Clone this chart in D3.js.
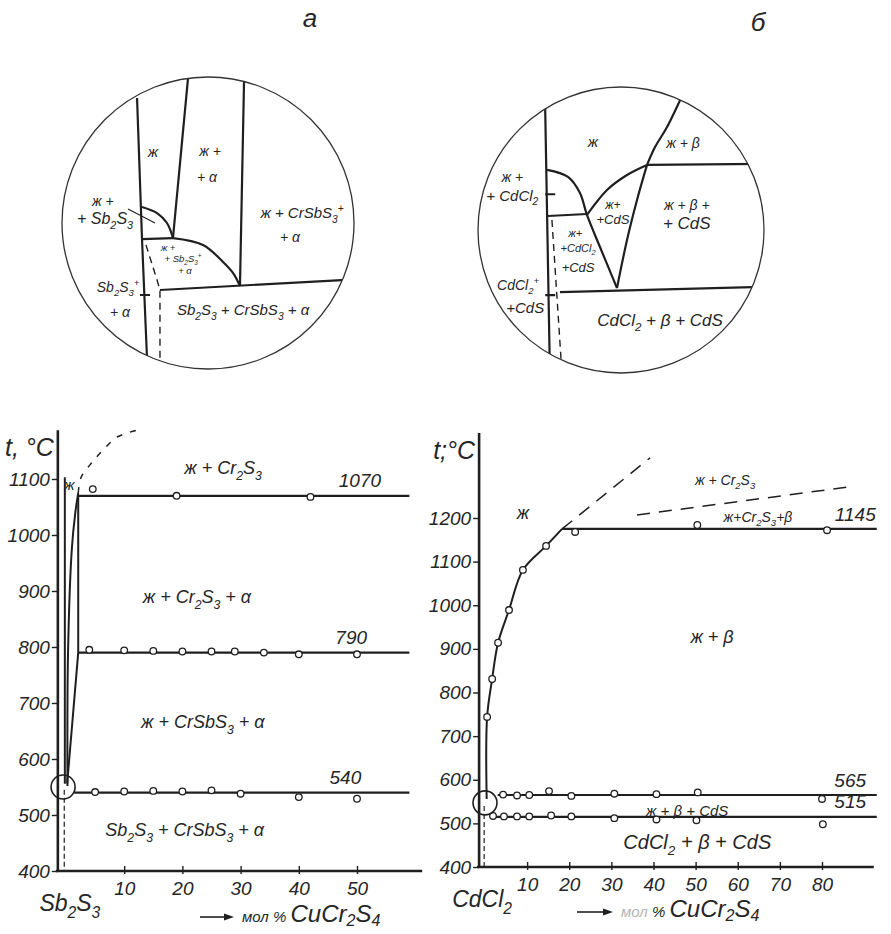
<!DOCTYPE html>
<html>
<head>
<meta charset="utf-8">
<script src="https://cdn.jsdelivr.net/npm/d3@7"></script>
<style>
  body { margin: 0; background: #fff; }
  svg text { font-family: "Liberation Sans", Arial, sans-serif; font-style: italic; fill: #262626; }
</style>
</head>
<body>
<svg id="chart" width="891" height="934"></svg>
<script>
// ---------- left panel: Sb2S3 – CuCr2S4 ----------
const leftTicksX = [10, 20, 30, 40, 50];
const leftTicksY = [400, 500, 600, 700, 800, 900, 1000, 1100];
const leftIsoT = [1070, 790, 540];
const leftIsoFrom = [2.1, 2.1, 1.4];
const leftIsoLabels = ['1070', '790', '540'];
const leftPts1070 = [[4.6, 1082], [19, 1070], [42, 1068]];
const leftPts790 = [[4, 795], [10, 794], [15, 793], [20, 792], [25, 792], [29, 792], [34, 790], [40, 787], [50, 787]];
const leftPts540 = [[5, 541], [10, 542], [15, 543], [20, 542], [25, 544], [30, 538], [40, 532], [50, 529]];
const leftLiquidus = [[0.25, 552], [0.35, 790], [1, 975], [1.6, 1040], [2.1, 1075]];
const leftLiquidusDash = [[2.1, 1075], [2.6, 1103], [4.5, 1130], [6.4, 1152], [8.8, 1175], [12.5, 1188]];
const leftSb2S3Line = [[-0.2, 1103], [-0.2, 556]];
const leftAlphaEdge = [[2.1, 1070], [2.1, 790], [0.2, 556]];
const leftSolidusDash = [[-0.3, 545], [-0.3, 400]];
const leftEutectic = [-0.5, 550];

// ---------- right panel: CdCl2 – CuCr2S4 ----------
const rightTicksX = [10, 20, 30, 40, 50, 60, 70, 80];
const rightTicksY = [400, 500, 600, 700, 800, 900, 1000, 1100, 1200];
const rightIsoT = [1175, 565, 515];
const rightIsoFrom = [18.3, 3, 1.7];
const rightIsoLabels = ['1145', '565', '515'];
const rightLiquidus = [[0.4, 556], [0.5, 744], [1.7, 831], [3.1, 914], [5.7, 989], [9, 1081], [14.5, 1136], [18.3, 1175]];
const rightLiqPts = [[0.5, 744], [1.7, 831], [3.1, 914], [5.7, 989], [9, 1081], [14.5, 1136]];
const rightDash1 = [[18.3, 1175], [39.2, 1338]];
const rightDash2 = [[36.1, 1207], [86.2, 1271]];
const rightPts1145 = [[21.4, 1168], [50.4, 1184], [81.2, 1172]];
const rightPts565 = [[4.3, 566], [7.6, 564], [10.5, 565], [15.2, 574], [20.5, 563], [30.7, 568], [40.7, 567], [50.5, 571], [80, 556]];
const rightPts515 = [[1.9, 517], [4.5, 516], [7.6, 516], [10.5, 516], [15.7, 518], [20.5, 516], [30.7, 512], [40.7, 509], [50.2, 507], [80.2, 498]];
const rightSolidusDash = [[-0.2, 540], [-0.2, 400]];
const rightEutectic = [0, 547];

// ---------- insets (schematic units, -100..100 across the circle) ----------
const insetA = {
  solid: [
    [[-48.6, -85.6], [-45.2, 11], [-41.8, 92]],
    [[-13.7, -99], [-24, 10.3]],
    [[24.7, -98], [21.9, 43.2]],
    [[-32.9, 45.9], [99, 38.7]],
    [[-45.2, 11], [-24, 10.3]],
    [[-46.6, 49.3], [-39.7, 49.3]]
  ],
  curves: [
    [[-24, 10.3], [-3.4, 15], [10.3, 26.7], [17.1, 34.2], [21.9, 43.2]],
    [[-45.2, -11], [-34.9, -6.8], [-28.1, 0], [-24, 10.3]]
  ],
  thin: [[[-54.8, -9.6], [-36.3, 0]]],
  dashed: [[[-42.5, 15], [-34.9, 39], [-32.9, 45.9], [-32.9, 100]]],
  labels: [
    ['ж', -37.7, -48.6, 15], ['ж +', 1.4, -49.3, 14], ['+ α', -0.7, -31.5, 14],
    ['ж +', -72, -15, 14], ['+ Sb{2}S{3}', -70.5, -3, 16],
    ['ж + CrSbS{3}[+]', 64.4, -6.8, 15], ['+ α', 56.2, 9.6, 14],
    ['ж +', -27.4, 16.8, 9.5], ['+ Sb{2}S{3}[+]', -17.1, 24.6, 9.5], ['+ α', -15.8, 32.6, 9.5],
    ['Sb{2}S{3}[+]', -61.6, 43.8, 14], ['+ α', -60.3, 61, 14],
    ['Sb{2}S{3} + CrSbS{3} + α', 24, 59.6, 15]
  ]
};
const insetB = {
  solid: [
    [[-53.1, -89.5], [-49.7, 100]],
    [[18.2, -45.5], [99, -46.3]],
    [[-42.7, 43.4], [99, 39.7]],
    [[-51, -9.8], [-23.8, -11.2]],
    [[-53, -25], [-46, -25]],
    [[-53, 45.5], [-46, 45.5]]
  ],
  curves: [
    [[46, -101], [32.2, -72], [23.8, -58], [18.2, -45.5]],
    [[18.2, -45.5], [11.2, -21], [4.2, 7], [-2.8, 40.6]],
    [[-51.7, -42], [-37.1, -37.1], [-28.7, -25.9], [-23.8, -10.5], [-14.7, 11.9], [-2.8, 40.6]],
    [[-23.8, -10.5], [-9.8, -28], [4.2, -38.5], [18.2, -45.5]]
  ],
  thin: [],
  dashed: [[[-48.3, -7], [-41.3, 100]]],
  labels: [
    ['ж', -19.6, -61.5, 15], ['ж + β', 43.4, -60.8, 14],
    ['ж +', -76, -37, 14], ['+ CdCl{2}', -76, -24, 15],
    ['ж+', -5.6, -17.5, 12], ['+CdS', -5.6, -7.7, 13],
    ['ж + β +', 46, -17.5, 14], ['+ CdS', 46, -4.9, 17],
    ['ж+', -32, 2, 11], ['+CdCl{2}', -30, 12.6, 11], ['+CdS', -30, 26, 13],
    ['CdCl{2}[+]', -72, 38.5, 14], ['+CdS', -67, 54.5, 15],
    ['CdCl{2} + β + CdS', 27.3, 63, 17]
  ]
};

const INK = '#1f1f1f';
const svg = d3.select('#chart');

// text with {sub} and [sup] parts
function rich(g, str, x, y, fs, anchor) {
  const t = g.append('text').attr('x', x).attr('y', y + 0.35 * fs)
    .attr('font-size', fs).attr('text-anchor', anchor || 'middle');
  const parts = str.split(/(\{[^}]*\}|\[[^\]]*\])/).filter(s => s.length);
  let shift = 0;
  parts.forEach(p => {
    let target = 0, size = fs, txt = p;
    if (p[0] === '{') { target = 0.3 * fs; size = 0.68 * fs; txt = p.slice(1, -1); }
    else if (p[0] === '[') { target = -0.42 * fs; size = 0.68 * fs; txt = p.slice(1, -1); }
    t.append('tspan').attr('dy', target - shift).attr('font-size', size).text(txt);
    shift = target;
  });
  return t;
}

function drawInset(cfg, cx, cy, r, id) {
  const sx = d3.scaleLinear().domain([-100, 100]).range([cx - r, cx + r]);
  const sy = d3.scaleLinear().domain([-100, 100]).range([cy - r, cy + r]);
  const lineStraight = d3.line().x(d => sx(d[0])).y(d => sy(d[1]));
  const lineCurve = d3.line().x(d => sx(d[0])).y(d => sy(d[1])).curve(d3.curveCatmullRom);

  svg.append('clipPath').attr('id', id).append('circle').attr('cx', cx).attr('cy', cy).attr('r', r);
  const g = svg.append('g');
  const inner = g.append('g').attr('clip-path', `url(#${id})`);

  inner.selectAll(null).data(cfg.solid).enter().append('path')
    .attr('d', lineStraight).attr('fill', 'none').attr('stroke', INK).attr('stroke-width', 2.2);
  inner.selectAll(null).data(cfg.curves).enter().append('path')
    .attr('d', lineCurve).attr('fill', 'none').attr('stroke', INK).attr('stroke-width', 2.2);
  inner.selectAll(null).data(cfg.thin).enter().append('path')
    .attr('d', lineStraight).attr('fill', 'none').attr('stroke', INK).attr('stroke-width', 1.1);
  inner.selectAll(null).data(cfg.dashed).enter().append('path')
    .attr('d', lineStraight).attr('fill', 'none').attr('stroke', INK).attr('stroke-width', 1.4)
    .attr('stroke-dasharray', '7,5');

  g.append('circle').attr('cx', cx).attr('cy', cy).attr('r', r)
    .attr('fill', 'none').attr('stroke', '#333').attr('stroke-width', 1.3);

  cfg.labels.forEach(l => rich(g, l[0], sx(l[1]), sy(l[2]), l[3]));
}

drawInset(insetA, 208, 223, 146, 'clipA');
drawInset(insetB, 621, 230, 143, 'clipB');
rich(svg, 'а', 310, 18, 26);
rich(svg, 'б', 758, 22, 26);

function drawPanel(p) {
  const g = svg.append('g');
  const x = p.x, y = p.y;
  const ax = x(p.axisAt), ay = y(400);
  const line = d3.line().x(d => x(d[0])).y(d => y(d[1]));
  const curve = d3.line().x(d => x(d[0])).y(d => y(d[1])).curve(d3.curveCatmullRom);

  // axes lines
  g.append('line').attr('x1', ax).attr('x2', ax).attr('y1', ay).attr('y2', y(p.yTop))
    .attr('stroke', INK).attr('stroke-width', 2.6);
  g.append('line').attr('x1', ax - 2).attr('x2', x(p.xEnd)).attr('y1', ay).attr('y2', ay)
    .attr('stroke', INK).attr('stroke-width', 2.6);

  const yAxis = d3.axisLeft(y).tickValues(p.ticksY).tickFormat(d3.format('d'))
    .tickSize(6).tickPadding(2).tickSizeOuter(0);
  const ya = g.append('g').attr('transform', `translate(${ax},0)`).call(yAxis);
  const xAxis = d3.axisBottom(x).tickValues(p.ticksX).tickFormat(d3.format('d'))
    .tickSizeInner(-5).tickPadding(11).tickSizeOuter(0);
  const xa = g.append('g').attr('transform', `translate(0,${ay})`).call(xAxis);
  [ya, xa].forEach(a => {
    a.select('.domain').remove();
    a.selectAll('line').attr('stroke', INK).attr('stroke-width', 1.4);
    a.selectAll('text').attr('font-size', 19).attr('font-family', null).attr('fill', '#262626');
  });
  xa.selectAll('line').attr('y2', -5).attr('y1', 3);

  // phase lines
  p.solid.forEach(s => g.append('path').attr('d', line(s)).attr('fill', 'none')
    .attr('stroke', INK).attr('stroke-width', 2));
  p.curves.forEach(s => g.append('path').attr('d', curve(s)).attr('fill', 'none')
    .attr('stroke', INK).attr('stroke-width', 2));
  p.dashed.forEach(s => g.append('path').attr('d', curve(s)).attr('fill', 'none')
    .attr('stroke', INK).attr('stroke-width', 1.5).attr('stroke-dasharray', s.length > 2 ? '6,8' : '13,9'));
  p.thinDash.forEach(s => g.append('path').attr('d', line(s)).attr('fill', 'none')
    .attr('stroke', INK).attr('stroke-width', 1.2).attr('stroke-dasharray', '5,3'));

  // isotherms
  p.isoT.forEach((t, i) => {
    g.append('line').attr('x1', x(p.isoFrom[i])).attr('x2', x(p.isoTo))
      .attr('y1', y(t)).attr('y2', y(t)).attr('stroke', INK).attr('stroke-width', 2.2);
  });

  // experimental points
  g.selectAll(null).data(p.points).enter().append('circle')
    .attr('cx', d => x(d[0])).attr('cy', d => y(d[1])).attr('r', 3.3)
    .attr('fill', '#fff').attr('stroke', INK).attr('stroke-width', 1.3);

  // eutectic marker
  g.append('circle').attr('cx', x(p.eutectic[0])).attr('cy', y(p.eutectic[1])).attr('r', 12)
    .attr('fill', 'none').attr('stroke', INK).attr('stroke-width', 1.6);

  // labels
  p.labels.forEach(l => rich(g, l[0], x(l[1]), y(l[2]), l[3]));
  p.isoLabels.forEach((s, i) => rich(g, s, x(p.isoLabelX[i]), y(p.isoT[i]) - 15, 19));

  // axis titles
  rich(g, p.yTitle, ax - 4, y(p.yTop) + 17, 25, 'end');
  rich(g, p.compName, ax + p.compDx, ay + 32, 23);
  return g;
}

function arrowTitle(g, x0, x1, yy, faint) {
  g.append('line').attr('x1', x0).attr('x2', x1 - 6).attr('y1', yy).attr('y2', yy)
    .attr('stroke', INK).attr('stroke-width', 1.6);
  g.append('path').attr('d', `M${x1},${yy} L${x1 - 10},${yy - 3.5} L${x1 - 10},${yy + 3.5} Z`).attr('fill', INK);
  const t = g.append('text').attr('x', x1 + 8).attr('y', yy + 5).attr('font-size', 15);
  t.append('tspan').attr('fill', faint ? '#b5b5b5' : '#262626').text('мол');
  t.append('tspan').text(' % ');
  t.append('tspan').attr('font-size', 24).text('CuCr');
  t.append('tspan').attr('font-size', 16).attr('dy', 4).text('2');
  t.append('tspan').attr('font-size', 24).attr('dy', -4).text('S');
  t.append('tspan').attr('font-size', 16).attr('dy', 4).text('4');
}

const xL = d3.scaleLinear().domain([0, 50]).range([66, 357]);
const yL = d3.scaleLinear().domain([400, 1100]).range([871, 479]);
const left = drawPanel({
  x: xL, y: yL, axisAt: -1.4, yTop: 1187, xEnd: 61.2,
  ticksX: leftTicksX, ticksY: leftTicksY,
  solid: [leftSb2S3Line, leftAlphaEdge],
  curves: [leftLiquidus],
  dashed: [leftLiquidusDash],
  thinDash: [leftSolidusDash],
  isoT: leftIsoT, isoFrom: leftIsoFrom, isoTo: 59,
  isoLabels: leftIsoLabels, isoLabelX: [50.5, 49, 48],
  points: leftPts1070.concat(leftPts790, leftPts540),
  eutectic: leftEutectic,
  yTitle: 't, °C',
  compName: 'Sb{2}S{3}', compDx: 12,
  labels: [
    ['ж', 0.6, 1089, 15],
    ['ж + Cr{2}S{3}', 27, 1120, 18],
    ['ж + Cr{2}S{3} + α', 22.5, 889, 18],
    ['ж + CrSbS{3} + α', 23.5, 666, 18],
    ['Sb{2}S{3} + CrSbS{3} + α', 20.4, 473, 18]
  ]
});
arrowTitle(left, 200, 234, 917, false);

const xR = d3.scaleLinear().domain([0, 80]).range([485, 822]);
const yR = d3.scaleLinear().domain([400, 1200]).range([867, 518]);
const right = drawPanel({
  x: xR, y: yR, axisAt: -1.4, yTop: 1395, xEnd: 92.3,
  ticksX: rightTicksX, ticksY: rightTicksY,
  solid: [],
  curves: [rightLiquidus],
  dashed: [rightDash1, rightDash2],
  thinDash: [rightSolidusDash],
  isoT: rightIsoT, isoFrom: rightIsoFrom, isoTo: 93,
  isoLabels: rightIsoLabels, isoLabelX: [87.9, 86.7, 86.7],
  points: rightLiqPts.concat(rightPts1145, rightPts565, rightPts515),
  eutectic: rightEutectic,
  yTitle: 't;°C',
  compName: 'CdCl{2}', compDx: 3,
  labels: [
    ['ж', 9, 1212, 18],
    ['ж + Cr{2}S{3}', 57, 1288, 14],
    ['ж+Cr{2}S{3}+β', 64.8, 1203, 14],
    ['ж + β', 53.9, 928, 18],
    ['ж + β + CdS', 48, 528, 15],
    ['CdCl{2} + β + CdS', 50.4, 457, 20]
  ]
});
arrowTitle(right, 577, 613, 912, true);
</script>
</body>
</html>
